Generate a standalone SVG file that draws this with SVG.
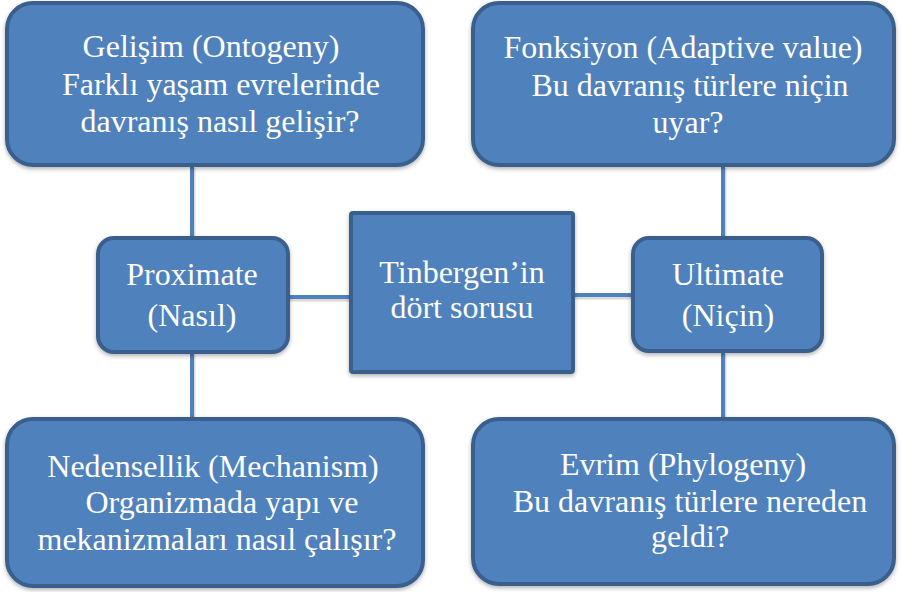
<svg xmlns="http://www.w3.org/2000/svg" width="901" height="592" viewBox="0 0 901 592">
<defs>
<filter id="sh" x="-10%" y="-10%" width="120%" height="130%">
<feDropShadow dx="0" dy="2" stdDeviation="2" flood-color="#000" flood-opacity="0.3"/>
</filter>
</defs>
<style>
.box{fill:#4f81bd;stroke:#3a5f8c;stroke-width:4;filter:url(#sh)}
.t{font-family:'Liberation Serif',Tinos,'Times New Roman','DejaVu Serif',serif;font-size:32px;fill:#fff;text-anchor:middle}
.c{stroke:#4f81bd;stroke-width:4;fill:none}
.cs{stroke:#000;stroke-opacity:0.15;stroke-width:5;fill:none}
</style>
<rect width="901" height="592" fill="#fff"/>
<g id="connectors">
<g transform="translate(1,2)">
<line class="cs" x1="192" y1="166" x2="192" y2="237"/>
<line class="cs" x1="192" y1="353" x2="192" y2="419"/>
<line class="cs" x1="288" y1="297" x2="350" y2="297"/>
<line class="cs" x1="574" y1="295" x2="632" y2="295"/>
<line class="cs" x1="723" y1="166" x2="723" y2="237"/>
<line class="cs" x1="723" y1="352" x2="723" y2="419"/>
</g>
<line class="c" x1="192" y1="166" x2="192" y2="237"/>
<line class="c" x1="192" y1="353" x2="192" y2="419"/>
<line class="c" x1="288" y1="297" x2="350" y2="297"/>
<line class="c" x1="574" y1="295" x2="632" y2="295"/>
<line class="c" x1="723" y1="166" x2="723" y2="237"/>
<line class="c" x1="723" y1="352" x2="723" y2="419"/>
</g>
<g id="ontogeny">
<rect class="box" x="7" y="3" width="416" height="162" rx="26"/>
<text class="t" x="211" y="57">Gelişim (Ontogeny)</text>
<text class="t" x="221" y="95">Farklı yaşam evrelerinde</text>
<text class="t" x="220" y="132">davranış nasıl gelişir?</text>
</g>
<g id="function">
<rect class="box" x="473" y="3" width="421" height="162" rx="26"/>
<text class="t" x="683" y="58">Fonksiyon (Adaptive value)</text>
<text class="t" x="690" y="96">Bu davranış türlere niçin</text>
<text class="t" x="688" y="133">uyar?</text>
</g>
<g id="proximate">
<rect class="box" x="98" y="238" width="190" height="114" rx="16"/>
<text class="t" x="192" y="285">Proximate</text>
<text class="t" x="192" y="326">(Nasıl)</text>
</g>
<g id="center">
<rect class="box" x="351" y="213" width="222" height="159" rx="2"/>
<text class="t" x="462" y="283">Tinbergen’in</text>
<text class="t" x="462" y="318">dört sorusu</text>
</g>
<g id="ultimate">
<rect class="box" x="633" y="238" width="189" height="113" rx="16"/>
<text class="t" x="728" y="285">Ultimate</text>
<text class="t" x="728" y="326">(Niçin)</text>
</g>
<g id="mechanism">
<rect class="box" x="7" y="419" width="416" height="167" rx="26"/>
<text class="t" x="213" y="477">Nedensellik (Mechanism)</text>
<text class="t" x="222" y="513">Organizmada yapı ve</text>
<text class="t" x="217" y="550">mekanizmaları nasıl çalışır?</text>
</g>
<g id="phylogeny">
<rect class="box" x="473" y="419" width="421" height="165" rx="26"/>
<text class="t" x="683" y="475">Evrim (Phylogeny)</text>
<text class="t" x="690" y="512">Bu davranış türlere nereden</text>
<text class="t" x="690" y="547">geldi?</text>
</g>
</svg>
